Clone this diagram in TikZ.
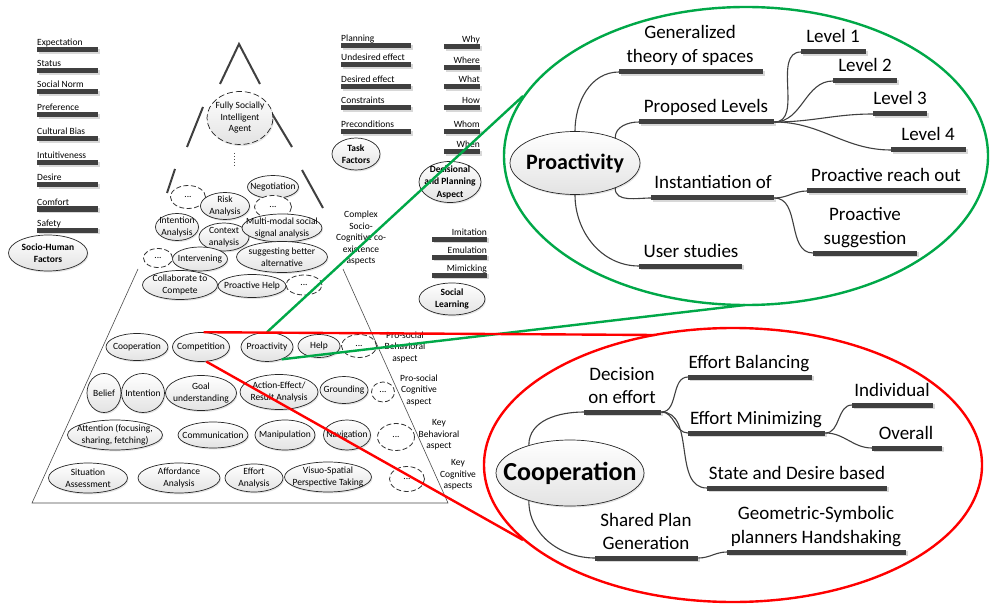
\documentclass[tikz,border=0pt]{standalone}
\usepackage{fontspec}
\setmainfont{Carlito}
\usetikzlibrary{shapes.geometric,shadows}
\definecolor{grn}{RGB}{0,168,72}
\tikzset{
 ell/.style={ellipse, draw=black!85, line width=0.7pt, top color=white, bottom color=gray!22, inner sep=0pt, drop shadow={opacity=0.2,shadow xshift=1pt,shadow yshift=-1.5pt}},
 dell/.style={ellipse, draw=black!80, line width=0.8pt, dash pattern=on 5pt off 2.5pt, fill=white, inner sep=0pt},
 lbl/.style={align=center, inner sep=0pt, font=\fontsize{9.5}{11.5}\selectfont},
 blbl/.style={align=center, inner sep=0pt, font=\bfseries\fontsize{9.5}{12.5}\selectfont},
 listtxt/.style={inner sep=0pt, font=\fontsize{9.5}{11}\selectfont},
 bar/.style={rectangle, fill=black!75, inner sep=0pt, minimum height=5pt, anchor=west, drop shadow={opacity=0.3, shadow xshift=1.5pt, shadow yshift=-1.5pt}},
 mm/.style={inner sep=0pt, anchor=base, font=\fontsize{19}{24}\selectfont},
 conn/.style={draw=black!75, line width=1.1pt},
 pyr/.style={draw=black!75, line width=2pt},
 pyrthin/.style={draw=black!70, line width=0.6pt},
 gline/.style={draw=grn, line width=2.4pt},
 rline/.style={draw=red, line width=2.4pt},
}
\newcommand\mkbar[4]{\node[bar,minimum width={(#3-#2)*1pt}] (#1) at (#2,#4) {};}
\newcommand\mkell[6]{\node[ell,minimum width=#4pt,minimum height=#5pt] (#1) at (#2,#3) {};\node[lbl] (#1t) at (#1.center) {#6};}
\newcommand\mkbell[6]{\node[ell,minimum width=#4pt,minimum height=#5pt] (#1) at (#2,#3) {};\node[blbl] (#1t) at (#1.center) {#6};}
\newcommand\mkdell[5]{\node[dell,minimum width=#4pt,minimum height=#5pt] (#1) at (#2,#3) {};\node[lbl] (#1t) at (#1.center) {...};}
\newcommand\litem[3]{\node[listtxt,anchor=base west] (#1t) at (37,#3-4) {#2};\mkbar{#1}{37}{98}{#3}}
\newcommand\mitem[3]{\node[listtxt,anchor=base west] (#1t) at (341,#3-4) {#2};\mkbar{#1}{341}{411}{#3}}
\newcommand\ritem[5]{\node[listtxt,anchor=base east] (#1t) at (#4,#5-4) {#2};\mkbar{#1}{#3}{#4}{#5}}
\begin{document}
\begin{tikzpicture}[x=1pt,y=-1pt]
\fill[white] (0,0) rectangle (990,604);
\useasboundingbox (0,0) rectangle (990,604);

% ---------- left list ----------
\litem{exp}{Expectation}{50}
\litem{sta}{Status}{71}
\litem{sno}{Social Norm}{92}
\litem{pre}{Preference}{115}
\litem{cub}{Cultural Bias}{139}
\litem{intu}{Intuitiveness}{163}
\litem{des}{Desire}{185}
\litem{com}{Comfort}{209}
\litem{saf}{Safety}{230}
\mkbell{shf}{48}{253}{79}{36}{Socio-Human\\Factors}

% ---------- middle lists ----------
\mitem{plan}{Planning}{46}
\mitem{und}{Undesired effect}{65}
\mitem{dese}{Desired effect}{87}
\mitem{cons}{Constraints}{108}
\mitem{prec}{Preconditions}{132}
\mkbell{tf}{356}{154}{48}{32}{Task\\Factors}

\ritem{why}{Why}{444}{480}{47}
\ritem{where}{Where}{444}{480}{68}
\ritem{what}{What}{444}{480}{87}
\ritem{how}{How}{444}{480}{108}
\ritem{whom}{Whom}{444}{480}{132}
\ritem{when}{When}{444}{480}{152}
\mkbell{dpa}{450}{182}{62}{41}{Decisional\\and Planning\\Aspect}

\ritem{imi}{Imitation}{432}{487}{239}
\ritem{emu}{Emulation}{432}{487}{257}
\ritem{mim}{Mimicking}{432}{487}{275}
\mkbell{sl}{452}{299}{66}{32}{Social\\Learning}

\node[lbl] (cplx) at (361,238) {Complex\\Socio-\\Cognitive co-\\existence\\aspects};

% ---------- pyramid lines ----------
\draw[pyr] (220,84) -- (239,44) -- (260,84);
\draw[pyr] (203,107) -- (187,147);
\draw[pyr] (268,107) -- (292,147);
\draw[pyr] (175,169) -- (167,193);
\draw[pyr] (302,170) -- (323,208);
\draw[pyrthin] (138,269) -- (32,503) -- (448,503) -- (343,269);
\draw[black!70, line width=0.9pt, dotted] (234,153) -- (234,167);

% ---------- pyramid top ----------
\node[ell, dash pattern=on 6pt off 3pt, minimum width=66pt, minimum height=53pt] (fsia) at (240,118) {};
\node[lbl] (fsiat) at (fsia.center) {Fully Socially\\Intelligent\\Agent};

\mkdell{d1}{188}{197}{35}{23}
\mkell{neg}{273}{187}{51}{23}{Negotiation}
\mkell{risk}{225}{206}{49}{27}{Risk\\Analysis}
\mkdell{d2}{273}{207}{37}{23}
\mkell{ia}{177}{227}{43}{27}{Intention\\Analysis}
\mkell{ctx}{224}{237}{50}{28}{Context\\analysis}
\mkell{mmsa}{282}{228}{80}{28}{Multi-modal social\\signal analysis}
\mkdell{d3}{158}{258}{29}{19}
\mkell{intv}{200}{259}{55}{24}{Intervening}
\mkell{sba}{282}{257}{91}{31}{suggesting better\\alternative}
\mkell{ctc}{180}{285}{75}{29}{Collaborate to\\Compete}
\mkell{ph}{252}{286}{68}{23}{Proactive Help}
\mkdell{d4}{304}{285}{36}{20}

% ---------- pyramid rows ----------
\mkell{coop}{137}{347}{62}{27}{Cooperation}
\mkell{comp}{201}{347}{57}{29}{Competition}
\mkell{proa}{267}{347}{52}{29}{Proactivity}
\mkell{help}{319}{346}{42}{23}{Help}
\mkdell{d5}{359}{346}{35}{23}
\node[lbl] (lab1) at (405,347) {Pro-social\\Behavioral\\aspect};

\mkell{bel}{104}{393}{34}{39}{Belief}
\mkell{inte}{143}{393}{43}{39}{Intention}
\mkell{goal}{201}{393}{71}{35}{Goal\\understanding}
\mkell{aer}{279}{392}{78}{35}{Action-Effect/\\Result Analysis}
\mkell{grnd}{344}{390}{48}{27}{Grounding}
\mkdell{d6}{383}{392}{23}{20}
\node[lbl] (lab2) at (419,390) {Pro-social\\Cognitive\\aspect};

\mkell{att}{115}{435}{95}{30}{Attention (focusing,\\sharing, fetching)}
\mkell{comm}{213}{435}{70}{26}{Communication}
\mkell{manip}{285}{435}{60}{30}{Manipulation}
\mkell{nav}{347}{435}{47}{30}{Navigation}
\mkdell{d7}{396}{437}{37}{27}
\node[lbl] (lab3) at (439,435) {Key\\Behavioral\\aspect};

\mkell{sa}{88}{478}{79}{30}{Situation\\Assessment}
\mkell{aff}{179}{478}{82}{30}{Affordance\\Analysis}
\mkell{ea}{254}{478}{58}{28}{Effort\\Analysis}
\mkell{vs}{328}{477}{87}{30}{Visuo-Spatial\\Perspective Taking}
\mkdell{d8}{407}{479}{35}{25}
\node[lbl] (lab4) at (458,475) {Key\\Cognitive\\aspects};

% ---------- green mind map ----------
\node[ellipse, draw=grn, line width=2.4pt, inner sep=0pt, minimum width=484pt, minimum height=298pt] (gE) at (746,156) {};
\node[ell, minimum width=130pt, minimum height=63pt] (pro) at (575,163) {};
\node[inner sep=0pt, font=\bfseries\fontsize{22}{26}\selectfont] (prot) at (pro.center) {Proactivity};

\mkbar{gen}{619}{763}{72}
\node[mm] (gen1) at (690,39) {Generalized};
\node[mm] (gen2) at (690,63) {theory of spaces};
\mkbar{pl}{639}{774}{122}
\node[mm] (plt) at (706,113) {Proposed Levels};
\mkbar{lv1}{801}{866}{52}
\node[mm] (lv1t) at (833,43) {Level 1};
\mkbar{lv2}{833}{897}{81}
\node[mm] (lv2t) at (865,72) {Level 2};
\mkbar{lv3}{873}{927}{114}
\node[mm] (lv3t) at (900,105) {Level 3};
\mkbar{lv4}{891}{966}{150}
\node[mm] (lv4t) at (928,141) {Level 4};
\mkbar{inst}{651}{774}{198}
\node[mm] (instt) at (713,189) {Instantiation of};
\mkbar{reach}{807}{966}{191}
\node[mm] (reacht) at (886,182) {Proactive reach out};
\mkbar{sugg}{813}{917}{253}
\node[mm] (sugg1) at (865,220) {Proactive};
\node[mm] (sugg2) at (865,244) {suggestion};
\mkbar{us}{639}{742}{266}
\node[mm] (ust) at (691,257) {User studies};

\draw[conn] (pro.north) to[out=90,in=180] (gen.west);
\draw[conn] (pro.32) to[out=90,in=180] (pl.west);
\draw[conn] (pro.-32) to[out=-90,in=180] (inst.west);
\draw[conn] (pro.south) to[out=-90,in=180] (us.west);
\draw[conn] (pl.east) to[out=0,in=180] (lv1.west);
\draw[conn] (pl.east) to[out=0,in=180] (lv2.west);
\draw[conn] (pl.east) to[out=0,in=180] (lv3.west);
\draw[conn] (pl.east) to[out=0,in=180] (lv4.west);
\draw[conn] (inst.east) to[out=0,in=180] (reach.west);
\draw[conn] (inst.east) to[out=0,in=180] (sugg.west);

% ---------- red mind map ----------
\node[ellipse, draw=red, line width=2.4pt, inner sep=0pt, minimum width=498pt, minimum height=274pt] (rE) at (733,465) {};
\node[ell, minimum width=148pt, minimum height=66pt] (cop) at (570,473) {};
\node[inner sep=0pt, font=\bfseries\fontsize{26}{30}\selectfont] (copt) at (cop.center) {Cooperation};

\mkbar{dec}{584}{661}{412}
\node[mm] (dec1) at (622,380) {Decision};
\node[mm] (dec2) at (622,403) {on effort};
\mkbar{eb}{688}{812}{377}
\node[mm] (ebt) at (749,368) {Effort Balancing};
\mkbar{emin}{688}{825}{433}
\node[mm] (emint) at (756,424) {Effort Minimizing};
\mkbar{ind}{852}{933}{405}
\node[mm] (indt) at (892,396) {Individual};
\mkbar{ov}{872}{942}{448}
\node[mm] (ovt) at (906,439) {Overall};
\mkbar{sdb}{707}{887}{488}
\node[mm] (sdbt) at (797,479) {State and Desire based};
\mkbar{spg}{595}{698}{558}
\node[mm] (spg1) at (646,526) {Shared Plan};
\node[mm] (spg2) at (646,549) {Generation};
\mkbar{gsp}{727}{906}{552}
\node[mm] (gsp1) at (816,519) {Geometric-Symbolic};
\node[mm] (gsp2) at (816,543) {planners Handshaking};

\draw[conn] (cop.146) to[out=90,in=180] (dec.west);
\draw[conn] (cop.214) to[out=-90,in=180] (spg.west);
\draw[conn] (dec.east) to[out=0,in=180] (eb.west);
\draw[conn] (dec.east) to[out=0,in=180] (emin.west);
\draw[conn] (dec.east) to[out=0,in=180] (sdb.west);
\draw[conn] (emin.east) to[out=0,in=180] (ind.west);
\draw[conn] (emin.east) to[out=0,in=180] (ov.west);
\draw[conn] (spg.east) to[out=0,in=180] (gsp.west);

% ---------- highlight lines ----------
\coordinate (gT) at (523,96);
\coordinate (gB) at (745,305);
\coordinate (rT) at (655,335);
\coordinate (rB) at (523,540);
\draw[gline] (proa.north) -- (gT);
\draw[gline] (proa.-40) -- (gB);
\draw[rline] (comp.80) -- (rT);
\draw[rline] (comp.-70) -- (rB);
\end{tikzpicture}
\end{document}
